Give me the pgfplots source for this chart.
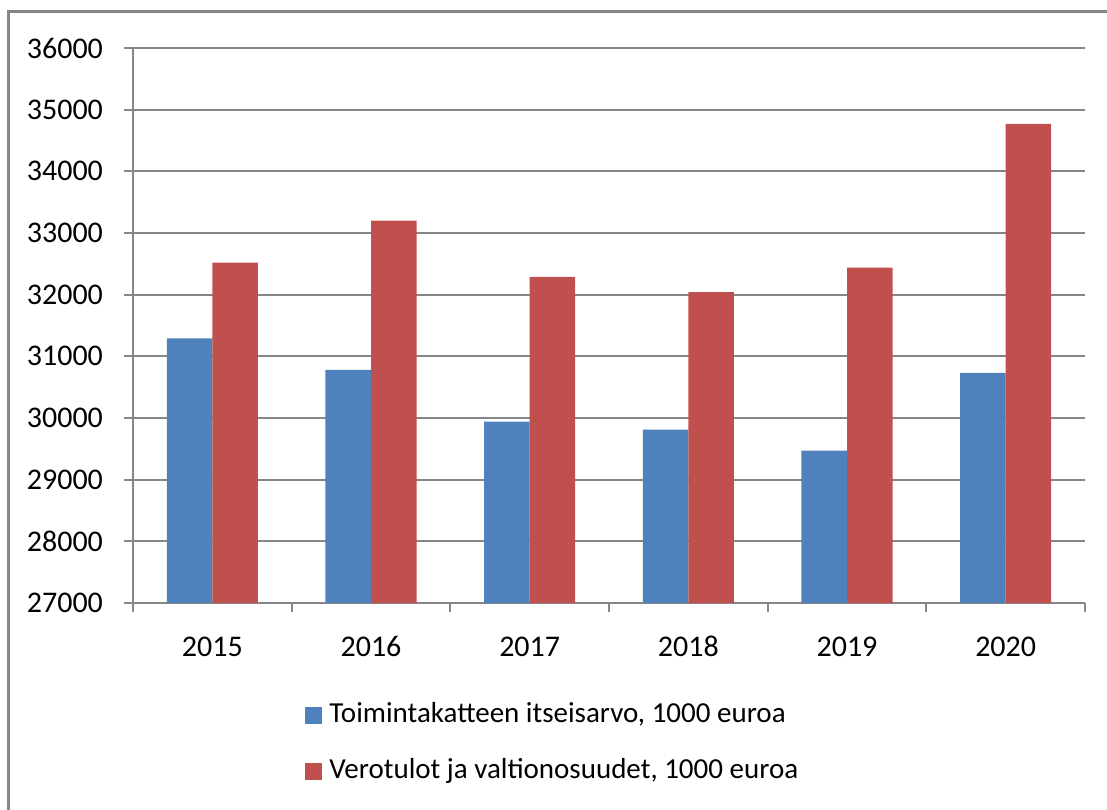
\documentclass[border=0pt]{standalone}
\usepackage{pgfplots}
\pgfplotsset{compat=1.18}
\usepackage{fontspec}
\setmainfont{Carlito}
\definecolor{xlblue}{HTML}{4F81BD}
\definecolor{xlred}{HTML}{C0504D}
\definecolor{xlgrid}{HTML}{868686}

\begin{document}
\begin{tikzpicture}
% page = 1107 x 809 px at 0.5pt per px
\useasboundingbox (0,0) rectangle (553.5pt,404.5pt);
\begin{axis}[
  at={(66.5pt,103pt)}, anchor=south west,
  scale only axis,
  width=476pt, height=277.5pt,
  ybar=0pt, bar width=0.287,
  xmin=-0.5, xmax=5.5,
  ymin=27000, ymax=36000,
  ytick={27000,28000,...,36000},
  scaled y ticks=false,
  xtick={-0.5,0.5,...,5.5}, xticklabels={},
  extra x ticks={0,1,2,3,4,5},
  extra x tick labels={2015,2016,2017,2018,2019,2020},
  extra x tick style={major tick length=0pt, grid=none,
    xticklabel style={yshift=-12.5pt, text height=10.5pt, text depth=0pt}},
  /pgf/number format/1000 sep={},
  /pgf/number format/assume math mode=true,
  tick label style={font=\fontsize{15}{18}\selectfont, text=black},
  yticklabel style={xshift=-7pt},
  ymajorgrids,
  grid style={xlgrid, line width=1pt},
  axis x line*=bottom, axis y line*=left,
  axis line style={xlgrid, line width=1pt},
  tick style={xlgrid, line width=1pt},
  tick align=outside, major tick length=4.5pt,
  legend cell align=left,
  legend style={draw=none, fill=none, at={(axis description cs:0.1807,-0.254)}, anchor=west,
    inner sep=0pt, row sep=15pt, font=\fontsize{14.5}{17}\selectfont,
    nodes={inner sep=0pt, text height=10pt, text depth=3pt},
    /tikz/every odd column/.append style={column sep=3.5pt}},
  legend image code/.code={\fill[#1, draw=none] (0pt,-4.25pt) rectangle (8.5pt,4.25pt);},
]
\addplot[fill=xlblue, draw=none] coordinates {(0,31290) (1,30780) (2,29940) (3,29810) (4,29470) (5,30730)};
\addplot[fill=xlred, draw=none] coordinates {(0,32520) (1,33200) (2,32290) (3,32040) (4,32440) (5,34770)};
\legend{{Toimintakatteen itseisarvo, 1000 euroa}, {Verotulot ja valtionosuudet, 1000 euroa}}
\end{axis}
\draw[xlgrid, line width=1.5pt] (4pt,-20pt) rectangle (580pt,398.5pt);
\end{tikzpicture}
\end{document}
